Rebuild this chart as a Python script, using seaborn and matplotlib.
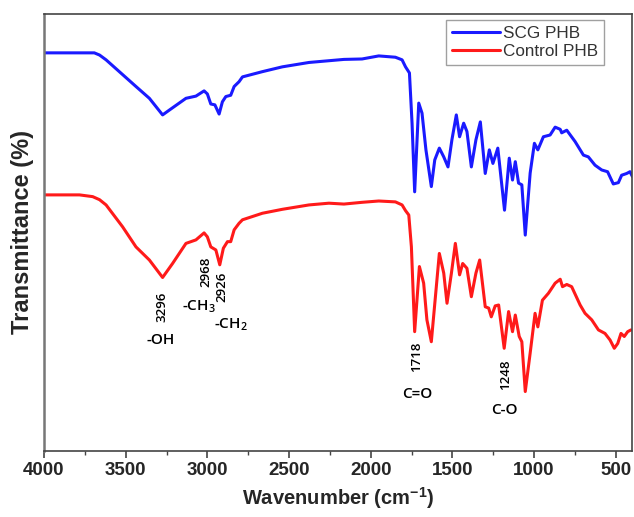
import pandas as pd
import numpy as np
import matplotlib
matplotlib.use("Agg")
import matplotlib.pyplot as plt
import seaborn as sns
from matplotlib.ticker import MultipleLocator

# FTIR spectra (wavenumber in cm-1, transmittance in arbitrary %)
scg_wn = [4000, 3692, 3660, 3620, 3539, 3437, 3355, 3274, 3233, 3131, 3070, 3020, 3000,
          2979, 2954, 2928, 2908, 2887, 2857, 2836, 2806, 2785, 2663, 2541, 2378,
          2256, 2164, 2053, 1951, 1849, 1808, 1787, 1763, 1747, 1731, 1706, 1686,
          1662, 1629, 1608, 1580, 1553, 1527, 1503, 1476, 1456, 1431, 1411, 1384,
          1356, 1329, 1299, 1274, 1252, 1222, 1181, 1152, 1132, 1115, 1095, 1075,
          1054, 1024, 998, 977, 943, 902, 871, 840, 831, 800, 749, 698, 668, 627,
          586, 550, 515, 484, 464, 433, 413, 398]
scg_t = [91.1, 91.1, 90.6, 89.5, 86.8, 83.4, 80.7, 76.9, 78.0, 80.7, 81.2, 82.4, 81.7,
         79.4, 79.2, 77.1, 79.9, 81.1, 81.4, 83.4, 84.5, 85.6, 86.8, 87.9, 88.9,
         89.3, 89.6, 89.7, 90.4, 90.1, 89.5, 87.9, 86.5, 75.0, 59.3, 79.6, 77.3,
         68.9, 60.5, 66.6, 69.3, 67.3, 65.0, 71.2, 76.9, 71.9, 75.0, 73.1, 65.0,
         71.2, 75.3, 63.5, 68.9, 65.8, 69.3, 55.1, 67.0, 62.0, 66.2, 61.3, 60.9,
         49.4, 63.6, 70.4, 68.9, 71.9, 72.3, 74.1, 73.6, 72.8, 73.4, 70.8, 67.7,
         67.3, 65.4, 64.3, 63.9, 61.1, 61.4, 63.1, 63.5, 63.9, 62.8]

ctrl_wn = [4000, 3783, 3702, 3660, 3620, 3519, 3437, 3355, 3274, 3213, 3131, 3070, 3020,
           3000, 2979, 2948, 2924, 2902, 2877, 2857, 2836, 2806, 2785, 2663, 2541,
           2378, 2256, 2164, 2053, 1951, 1849, 1808, 1787, 1767, 1751, 1731, 1702,
           1676, 1656, 1629, 1604, 1580, 1553, 1533, 1506, 1482, 1456, 1437, 1411,
           1384, 1356, 1333, 1299, 1278, 1262, 1238, 1217, 1183, 1156, 1132, 1115,
           1091, 1075, 1054, 1024, 994, 977, 949, 912, 871, 840, 826, 800, 770,
           718, 688, 647, 606, 566, 535, 509, 488, 468, 448, 427, 407]
ctrl_t = [58.6, 58.6, 58.2, 57.5, 56.3, 51.3, 46.7, 43.7, 39.7, 42.9, 47.5, 48.3, 49.9,
          49.0, 46.7, 46.0, 42.6, 46.4, 47.9, 47.9, 50.6, 52.1, 52.9, 54.4, 55.3,
          56.3, 56.7, 56.5, 56.9, 57.2, 57.0, 56.3, 55.0, 54.0, 46.7, 27.3, 42.2,
          38.4, 30.0, 25.0, 35.3, 45.2, 40.7, 33.8, 40.7, 47.5, 40.3, 42.9, 41.8,
          35.3, 40.7, 43.7, 33.0, 32.7, 30.7, 33.2, 33.4, 23.5, 31.9, 27.3, 31.1,
          26.2, 25.0, 13.6, 22.4, 31.5, 28.4, 34.5, 36.1, 38.4, 39.3, 37.6, 38.1,
          37.6, 33.4, 31.5, 30.0, 27.7, 26.9, 25.4, 23.5, 24.6, 26.9, 26.2, 27.3, 27.7]

series_names = ["SCG PHB", "Control PHB"]
series_colors = ["#1a1aff", "#ff1a1a"]

# peak labels: text, wavenumber, transmittance, rotation, size
peak_labels = [("3296", 3276, 32.9, 90, 9.5),
               ("2968", 3007, 41.0, 90, 9.5),
               ("2926", 2909, 37.5, 90, 9.5),
               ("1718", 1718, 21.5, 90, 9.5),
               ("1248", 1175, 17.4, 90, 9.5),
               ("-OH", 3288, 25.5, 0, 11),
               (r"-CH$\mathregular{_3}$", 3050, 32.9, 0, 11),
               (r"-CH$\mathregular{_2}$", 2855, 28.8, 0, 11),
               ("C=O", 1718, 13.0, 0, 11),
               ("C-O", 1181, 9.4, 0, 11)]

df = pd.concat([
    pd.DataFrame({"wn": scg_wn, "T": scg_t, "sample": series_names[0]}),
    pd.DataFrame({"wn": ctrl_wn, "T": ctrl_t, "sample": series_names[1]}),
])

sns.set_theme(style="white")
plt.rcParams["font.family"] = ["Liberation Sans", "DejaVu Sans"]

fig = plt.figure(figsize=(6.34, 5.17), dpi=100)
ax = fig.add_axes([0.0694, 0.1277, 0.9276, 0.8453])

sns.lineplot(data=df, x="wn", y="T", hue="sample", hue_order=series_names,
             palette=dict(zip(series_names, series_colors)), linewidth=2.2,
             sort=False, estimator=None, ax=ax)

ax.set_xlim(4000, 400)
ax.set_ylim(0, 100)
ax.set_yticks([])
ax.xaxis.set_major_locator(MultipleLocator(500))
ax.xaxis.set_minor_locator(MultipleLocator(250))
ax.tick_params(axis="x", which="major", direction="out", length=5, width=1.2,
               color="#444444", bottom=True, labelsize=13.5, pad=3)
ax.tick_params(axis="x", which="minor", direction="out", length=3, width=1.0,
               color="#444444", bottom=True)
for lab in ax.get_xticklabels():
    lab.set_fontweight("bold")

for side in ["left", "right", "top", "bottom"]:
    ax.spines[side].set_color("#444444")
    ax.spines[side].set_linewidth(1.2)
ax.spines["left"].set_color("#777777")
ax.spines["left"].set_linewidth(1.8)

ax.set_xlabel("Wavenumber (cm$^{\\mathregular{-1}}$)", fontsize=14.5,
              fontweight="bold", labelpad=4)
ax.set_ylabel("Transmittance (%)", fontsize=17, fontweight="bold", labelpad=7)

for txt, x, y, rot, size in peak_labels:
    ax.text(x, y, txt, rotation=rot, fontsize=size, ha="center", va="center",
            family=["Open Sans", "DejaVu Sans"], fontweight="semibold",
            color="black")

leg = ax.legend(loc="upper right", bbox_to_anchor=(0.952, 0.986),
                borderaxespad=0, fontsize=12.3, frameon=True, fancybox=False,
                handlelength=2.8, handletextpad=0.15, labelspacing=0.2,
                borderpad=0.35)
leg.get_frame().set_edgecolor("#888888")
leg.get_frame().set_linewidth(1.0)
for t in leg.get_texts():
    t.set_color("#333333")
for line in leg.get_lines():
    line.set_linewidth(2.2)

fig.savefig("out.png", dpi=100)
